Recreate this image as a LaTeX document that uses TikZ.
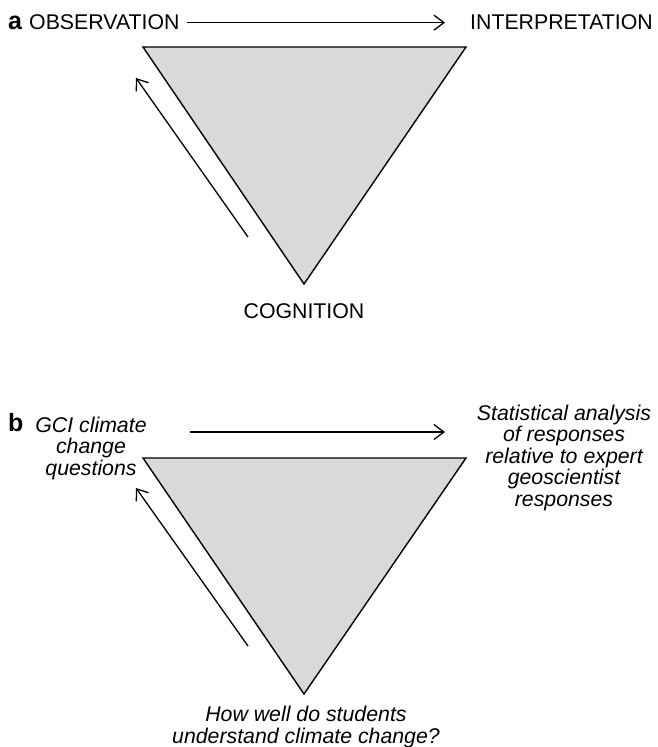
\documentclass[tikz,border=0pt]{standalone}
\usepackage{fontspec}
\setmainfont{Liberation Sans}
\usetikzlibrary{arrows.meta}
\definecolor{trifill}{HTML}{D9D9D9}
\begin{document}
\begin{tikzpicture}[x=1bp,y=-1bp,
  txt/.style={inner sep=0pt,font=\fontsize{21.3bp}{21.5bp}\selectfont},
  itxt/.style={inner sep=0pt,align=center,font=\fontsize{21.3bp}{21.5bp}\selectfont\itshape},
  lab/.style={inner sep=0pt,font=\fontsize{25bp}{25bp}\selectfont\bfseries},
  tri/.style={draw=black,fill=trifill,line width=1.4bp,line join=miter},
  arr/.style={line width=1.3bp,-{Straight Barb[length=10bp,width=15bp]}}]
\useasboundingbox (0,0) rectangle (658,747);

% ---------- panel a ----------
\node[lab,anchor=base west] (la) at (8,30) {a};
\node[txt,anchor=base west] (obs) at (29,30) {OBSERVATION};
\node[txt,anchor=base west] (interp) at (470,30) {INTERPRETATION};
\draw[arr] ([xshift=7bp]obs.east) -- ([xshift=-25bp]interp.west);

\coordinate (ta1) at (143,47);
\coordinate (ta2) at (466,47);
\coordinate (ta3) at (304,284);
\draw[tri] (ta1) -- (ta2) -- (ta3) -- cycle;

\coordinate (aa1) at (248,237);
\coordinate (aa2) at (136,78);
\draw[arr] (aa1) -- (aa2);

\node[txt,anchor=base] (cog) at (304,318) {COGNITION};

% ---------- panel b ----------
\node[lab,anchor=base west] (lb) at (8,431) {b};
\node[itxt,anchor=north] (gci) at (91,416.5) {GCI climate\\change\\questions};
\node[itxt,anchor=north] (stat) at (564,404.5) {Statistical analysis\\of responses\\relative to expert\\geoscientist\\responses};

\coordinate (ba1) at (190,432);
\coordinate (ba2) at (445,432);
\draw[arr] (ba1) -- (ba2);

\coordinate (tb1) at (143,458);
\coordinate (tb2) at (466,458);
\coordinate (tb3) at (304,694);
\draw[tri] (tb1) -- (tb2) -- (tb3) -- cycle;

\coordinate (bb1) at (248,646);
\coordinate (bb2) at (136,488);
\draw[arr] (bb1) -- (bb2);

\node[itxt,anchor=north] (how) at (306,706) {How well do students\\understand climate change?};
\end{tikzpicture}
\end{document}
